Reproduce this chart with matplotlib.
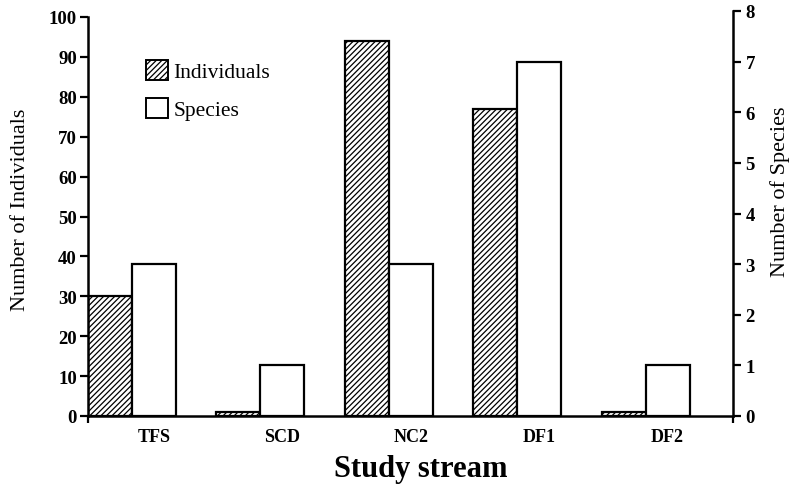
import numpy as np
import matplotlib
matplotlib.use("Agg")
import matplotlib.pyplot as plt
from matplotlib.patches import Patch

streams = ["TFS", "SCD", "NC2", "DF1", "DF2"]
individuals = [30, 1, 94, 77, 1]
species = [3, 1, 3, 7, 1]

plt.rcParams['font.family'] = ['Liberation Serif', 'DejaVu Serif']
plt.rcParams['hatch.linewidth'] = 0.9

fig = plt.figure(figsize=(7.96, 4.89), dpi=100)
W, H = 796.0, 489.0

# left axis: 0 at y=417, 100 at y=18 ; right axis: 0 at y=417, 8 at y=12
ax = fig.add_axes([88 / W, 1 - 417 / H, (733 - 88) / W, (417 - 18) / H])
ax2 = fig.add_axes([88 / W, 1 - 417 / H, (733 - 88) / W, (417 - 12) / H])
ax2.patch.set_visible(False)

x = np.arange(len(streams))
w = 0.342
xlim = (-w, 4.68)

ax.bar(x - w / 2, individuals, w, facecolor='white', edgecolor='black',
       hatch='//////', linewidth=1.6)
ax2.bar(x + w / 2, species, w, facecolor='white', edgecolor='black',
        linewidth=1.6)

ax.set_xlim(*xlim)
ax2.set_xlim(*xlim)
ax.set_ylim(0, 100)
ax2.set_ylim(0, 8)

ax.set_yticks(range(0, 101, 10))
ax2.set_yticks(range(0, 9))
ax.set_xticks(x + w / 2)
ax.set_xticklabels(streams)
ax.set_xticks(list(xlim), minor=True)
ax2.set_xticks([])

for s in ['top', 'right']:
    ax.spines[s].set_visible(False)
for s in ['top', 'left', 'bottom']:
    ax2.spines[s].set_visible(False)
ax.spines['left'].set_linewidth(1.8)
ax.spines['bottom'].set_linewidth(1.8)
ax2.spines['right'].set_linewidth(1.8)

ax.tick_params(axis='y', direction='out', length=6, width=1.6, labelsize=13.5, pad=2)
ax.tick_params(axis='x', which='major', length=0, labelsize=13, pad=9)
ax.tick_params(axis='x', which='minor', direction='out', length=5, width=1.6)
ax2.yaxis.tick_right()
ax2.yaxis.set_label_position('right')
ax2.tick_params(axis='y', direction='out', length=6, width=1.6, labelsize=13.5, pad=3)
for lab in ax.get_yticklabels() + ax.get_xticklabels() + ax2.get_yticklabels():
    lab.set_fontweight('bold')

ax.set_ylabel("Number of Individuals", fontsize=16)
ax.yaxis.set_label_coords(-0.09, 0.519)
ax2.set_ylabel("Number of Species", fontsize=16, rotation=90)
ax2.yaxis.set_label_coords(1.057, 0.556)
ax.set_xlabel("Study stream", fontsize=22, fontweight='bold')
ax.xaxis.set_label_coords(0.516, -0.095)

handles = [Patch(facecolor='white', edgecolor='black', hatch='//////', linewidth=1.4),
           Patch(facecolor='white', edgecolor='black', linewidth=1.4)]
ax.legend(handles, ["Individuals", "Species"], loc='upper left',
          bbox_to_anchor=(0.077, 0.913), frameon=False, fontsize=15.5,
          handlelength=1.0, handleheight=1.0, handletextpad=0.25,
          labelspacing=0.75, borderaxespad=0)

fig.savefig("out.png", dpi=100)
